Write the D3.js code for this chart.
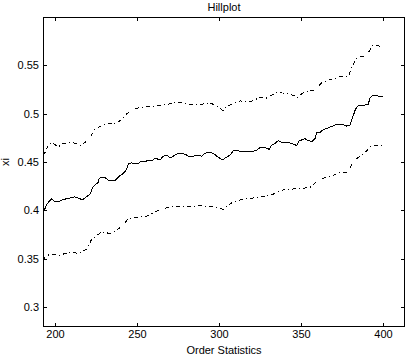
<!DOCTYPE html>
<html>
<head>
<meta charset="utf-8">
<script src="https://cdn.jsdelivr.net/npm/d3@7"></script>
<style>
  body { margin: 0; background: #fff; }
  svg { display: block; font-family: "Liberation Sans", Arial, sans-serif; }
</style>
</head>
<body>
<svg id="chart" width="406" height="356"></svg>
<script>
// Hill estimate (solid) and its upper / lower bands (dash-dot)
const kMid = [193, 194, 195.3, 198, 200, 202, 205, 207, 210, 212, 215, 217, 219, 221, 222, 223, 224.4, 226.4, 227, 228.5, 230.5, 232.5, 236.6, 238, 239.6, 241.6, 242.7, 243.7, 244.7, 246.8, 248.8, 250.8, 251.8, 254.9, 256.9, 259, 261, 264, 266, 268, 270.7, 273, 275, 279.3, 282.3, 284.3, 286.4, 289.4, 291.5, 293.5, 296.5, 298.6, 302, 303.7, 306.7, 307.7, 308.7, 310.8, 313.8, 316.9, 320, 323, 325, 328, 330.7, 332, 334, 336.2, 338.2, 342.3, 344.3, 347.4, 349, 351, 352.4, 354.5, 356.5, 358.5, 359.6, 361.6, 363.6, 365.7, 367.7, 370.7, 372.7, 374.8, 377.9, 379.9, 380.9, 381.9, 383, 384.3, 386, 389, 391, 392, 393.1, 395.1, 397.1, 400];
const xiMid = [0.400, 0.402, 0.407, 0.412, 0.409, 0.409, 0.411, 0.412, 0.413, 0.414, 0.412, 0.411, 0.414, 0.416, 0.419, 0.424, 0.426, 0.429, 0.433, 0.434, 0.434, 0.431, 0.431, 0.433, 0.436, 0.438, 0.440, 0.443, 0.448, 0.449, 0.448, 0.448, 0.450, 0.450, 0.452, 0.451, 0.454, 0.452, 0.456, 0.457, 0.454, 0.457, 0.459, 0.458, 0.455, 0.456, 0.457, 0.456, 0.459, 0.460, 0.459, 0.456, 0.452, 0.454, 0.457, 0.459, 0.4615, 0.462, 0.4605, 0.4605, 0.4605, 0.462, 0.465, 0.465, 0.463, 0.467, 0.469, 0.472, 0.470, 0.470, 0.469, 0.467, 0.472, 0.473, 0.474, 0.472, 0.471, 0.474, 0.480, 0.4805, 0.4835, 0.4845, 0.486, 0.488, 0.489, 0.489, 0.487, 0.488, 0.493, 0.498, 0.5035, 0.5075, 0.5087, 0.5087, 0.5097, 0.5156, 0.518, 0.519, 0.518, 0.518];

const kUp = [193, 194, 195.5, 198, 202, 205, 211, 216, 221, 224, 228, 232, 236, 240, 244, 248, 252, 256, 260, 264, 268, 272, 274, 278, 281, 285, 290, 294.5, 297.6, 302.6, 304.5, 307.7, 312.8, 319, 325, 329, 335, 341, 348, 352, 358.5, 362.6, 367.7, 373.8, 378.8, 381, 384, 386, 390, 392, 394, 400];
const xiUp = [0.462, 0.457, 0.467, 0.470, 0.4656, 0.469, 0.470, 0.467, 0.474, 0.483, 0.487, 0.490, 0.489, 0.493, 0.500, 0.505, 0.506, 0.507, 0.507, 0.5087, 0.5097, 0.510, 0.512, 0.511, 0.5097, 0.5097, 0.5097, 0.511, 0.5087, 0.503, 0.507, 0.5097, 0.513, 0.512, 0.5166, 0.516, 0.5215, 0.521, 0.517, 0.5225, 0.524, 0.5317, 0.535, 0.538, 0.538, 0.548, 0.557, 0.5587, 0.560, 0.5655, 0.5707, 0.569];

const kLo = [193, 194, 197, 203, 209, 214, 220, 222, 228.5, 233.5, 240.7, 244.7, 249.8, 256, 261, 266, 272, 279, 284, 288, 296.5, 302.6, 307.7, 315, 323, 333, 339, 345, 350.4, 355.5, 360.5, 365.7, 370, 373.8, 378.8, 381, 384, 387, 390, 392, 395, 400];
const xiLo = [0.3486, 0.352, 0.3548, 0.3537, 0.357, 0.3555, 0.3606, 0.369, 0.378, 0.376, 0.383, 0.3916, 0.3927, 0.394, 0.3985, 0.402, 0.4036, 0.4043, 0.4036, 0.405, 0.4036, 0.401, 0.4077, 0.412, 0.413, 0.4167, 0.421, 0.422, 0.4226, 0.4237, 0.431, 0.4346, 0.4364, 0.4398, 0.4387, 0.4484, 0.4536, 0.457, 0.4615, 0.4655, 0.4666, 0.467];

const xTicks = [200, 250, 300, 350, 400];
const yTicks = [0.3, 0.35, 0.4, 0.45, 0.5, 0.55];

const svg = d3.select('#chart');
const margin = { left: 43, right: 1, top: 17, bottom: 29 };
const W = 406, H = 356;

const x = d3.scaleLinear()
  .domain([192.7, 413.4])
  .range([margin.left, W - margin.right]);
const y = d3.scaleLinear()
  .domain([0.2795, 0.5997])
  .range([H - margin.bottom, margin.top]);

// ticks inside the box on all four sides
const fmt = d => String(d);
svg.append('g')
  .attr('transform', `translate(0,${H - margin.bottom})`)
  .call(d3.axisBottom(x).tickValues(xTicks).tickSizeInner(-4).tickSizeOuter(0).tickPadding(3).tickFormat(fmt));
svg.append('g')
  .attr('transform', `translate(0,${margin.top})`)
  .call(d3.axisTop(x).tickValues(xTicks).tickSizeInner(-4).tickSizeOuter(0).tickFormat(''));
svg.append('g')
  .attr('transform', `translate(${margin.left},0)`)
  .call(d3.axisLeft(y).tickValues(yTicks).tickSizeInner(-4).tickSizeOuter(0).tickPadding(4).tickFormat(fmt));
svg.append('g')
  .attr('transform', `translate(${W - margin.right},0)`)
  .call(d3.axisRight(y).tickValues(yTicks).tickSizeInner(-4).tickSizeOuter(0).tickFormat(''));

svg.selectAll('.domain').remove();
svg.selectAll('.tick line').attr('stroke', '#000').attr('shape-rendering', 'crispEdges');
svg.selectAll('.tick text').attr('fill', '#000').style('font-size', '11px');

// frame
svg.append('rect')
  .attr('x', margin.left + 0.5)
  .attr('y', margin.top + 0.5)
  .attr('width', W - margin.right - margin.left - 1)
  .attr('height', H - margin.bottom - margin.top - 1)
  .attr('fill', 'none')
  .attr('stroke', '#000')
  .attr('shape-rendering', 'crispEdges');

const line = d3.line().x(d => x(d[0])).y(d => y(d[1]));

svg.append('path')
  .datum(d3.zip(kUp, xiUp))
  .attr('d', line)
  .attr('fill', 'none')
  .attr('stroke', '#000')
  .attr('stroke-dasharray', '4,3,1,3')
  .attr('shape-rendering', 'crispEdges');

svg.append('path')
  .datum(d3.zip(kLo, xiLo))
  .attr('d', line)
  .attr('fill', 'none')
  .attr('stroke', '#000')
  .attr('stroke-dasharray', '4,3,1,3')
  .attr('shape-rendering', 'crispEdges');

svg.append('path')
  .datum(d3.zip(kMid, xiMid))
  .attr('d', line)
  .attr('fill', 'none')
  .attr('stroke', '#000')
  .attr('shape-rendering', 'crispEdges');

// labels
svg.append('text')
  .attr('x', 224).attr('y', 11)
  .attr('text-anchor', 'middle')
  .style('font-size', '11px')
  .text('Hillplot');

svg.append('text')
  .attr('x', 224).attr('y', 354)
  .attr('text-anchor', 'middle')
  .style('font-size', '11px')
  .text('Order Statistics');

svg.append('text')
  .attr('transform', 'translate(9,162) rotate(-90)')
  .attr('text-anchor', 'middle')
  .style('font-size', '11px')
  .text('xi');
</script>
</body>
</html>
